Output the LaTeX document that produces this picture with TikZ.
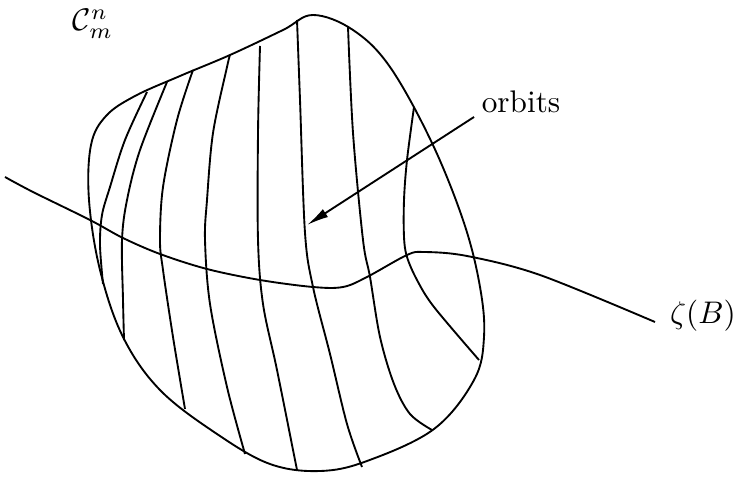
\documentclass[tikz,border=0pt]{standalone}
\usetikzlibrary{arrows.meta}
\begin{document}
\begin{tikzpicture}[x=0.32pt,y=-0.32pt,
  curve/.style={line width=0.6pt,smooth,tension=0.55},
  lbl/.style={inner sep=0pt,font=\normalsize}]
\useasboundingbox (0,0) rectangle (737,477);
% outline
\draw[curve] plot[smooth cycle,tension=0.6] coordinates {
(313,15) (353,30) (390,67) (432,143) (464,223) (480,287) (484,337) (474,380) (434,429) (367,461) (320,471) (270,464) (217,434) (160,390) (123,337) (100,270) (89,200) (91,145) (106,116) (135,96) (180,76) (230,55) (283,30)};
% orbits
\draw[curve] plot coordinates {(147,92) (125,140) (110,187) (102,215) (100,245) (103,284)};
\draw[curve] plot coordinates {(167,82) (140,150) (127,200) (122,240) (123,300) (124,340)};
\draw[curve] plot coordinates {(193,70) (177,120) (163,187) (160,240) (163,270) (173,337) (185,409)};
\draw[curve] plot coordinates {(230,55) (227,67) (213,133) (207,200) (205,240) (210,304) (227,387) (245,454)};
\draw[curve] plot coordinates {(260,46) (258,133) (258,240) (263,304) (277,370) (297,470)};
\draw[curve] plot coordinates {(297,20) (300,100) (305,233) (313,287) (330,354) (347,424) (362,467)};
\draw[curve] plot coordinates {(348,27) (353,133) (363,240) (370,277) (380,337) (394,384) (410,414) (432,430)};
\draw[curve] plot coordinates {(414,107) (407,160) (404,200) (404,237) (407,257) (417,280) (434,307) (479,360)};
% zeta(B)
\draw[curve] plot coordinates {(5,177) (33,192) (90,220) (123,238) (160,254) (207,269) (260,280) (313,287) (343,287) (367,277) (407,255) (424,252) (467,256) (540,275) (655,322)};
% labels
\node[lbl] (zb) at (703,316) {$\zeta(B)$};
\node[lbl] (cmn) at (93,24) {$\mathcal{C}_m^n$};
\node[lbl] (orb) at (521,102) {orbits};
\coordinate (astart) at (474,117);
\coordinate (atip) at (307,225);
\draw[line width=0.6pt,-{Latex[length=7pt,width=3pt]}] (astart) -- (atip);
\end{tikzpicture}
\end{document}
